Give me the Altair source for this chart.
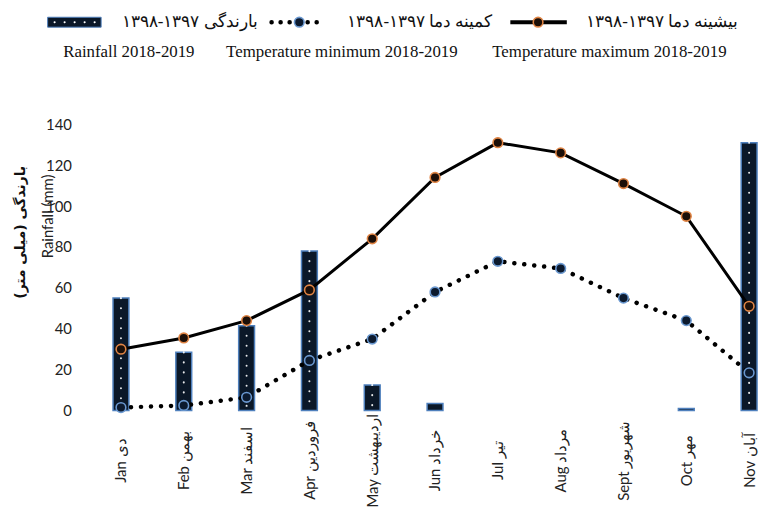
import altair as alt
import pandas as pd

# ---- data ----
months_en = ["Jan", "Feb", "Mar", "Apr", "May", "Jun", "Jul", "Aug", "Sept", "Oct", "Nov"]
months_fa = ["دی", "بهمن", "اسفند", "فروردین", "اردیبهشت", "خرداد", "تیر", "مرداد", "شهریور", "مهر", "آبان"]
rainfall = [55, 28.5, 41.5, 78, 12.5, 3.5, 0, 0, 0, 1, 131]
temp_max = [30, 35.5, 44, 59, 84, 114, 131, 126, 111, 95, 51]
temp_min = [1.5, 2.5, 6.5, 24.5, 35, 58, 73, 69.5, 55, 44, 18.5]
y_ticks = [0, 20, 40, 60, 80, 100, 120, 140]

labels = [f"{e} {f}" for e, f in zip(months_en, months_fa)]
df = pd.DataFrame({"month": labels, "rain": rainfall, "tmax": temp_max, "tmin": temp_min})
one = pd.DataFrame({"k": [0]})

LABEL_FONT = "Lato"
SERIF = "Liberation Serif"

x_enc = alt.X(
    "month:N",
    sort=labels,
    scale=alt.Scale(type="point", padding=0.284, align=0.889),
    axis=alt.Axis(
        title=None, labelAngle=270, labelAlign="center", labelBaseline="middle",
        labelPadding=50, labelFont=LABEL_FONT, labelFontSize=15, labelColor="#222",
        domain=False, ticks=False, grid=False,
    ),
)
y_scale = alt.Scale(domain=[0, 140], nice=False, zero=True)
y_axis = alt.Axis(
    title=None, values=y_ticks, domain=False, ticks=False, grid=False,
    labelPadding=18, labelFont=LABEL_FONT, labelFontSize=15, labelColor="#222",
)

base = alt.Chart(df)

# axis carrier (invisible) so both axes always render
axis_carrier = base.mark_point(opacity=0).encode(
    x=x_enc, y=alt.Y("rain:Q", scale=y_scale, axis=y_axis)
)
bars = base.transform_filter("datum.rain > 0").mark_bar(
    size=16, color="#0b1828", stroke="#4f80bd", strokeWidth=1.5
).encode(x=alt.X("month:N", sort=labels), y=alt.Y("rain:Q", scale=y_scale))
bar_dots = base.transform_filter("datum.rain > 4").mark_rule(
    color="white", strokeWidth=2, strokeDash=[0.1, 10], strokeCap="round", opacity=0.9
).encode(x=alt.X("month:N", sort=labels), y=alt.Y("rain:Q", scale=y_scale), y2=alt.datum(0))

line_max = base.mark_line(color="black", strokeWidth=3).encode(
    x=alt.X("month:N", sort=labels), y=alt.Y("tmax:Q", scale=y_scale)
)
line_min = base.mark_line(color="black", strokeWidth=4.5, strokeDash=[0.1, 10], strokeCap="round").encode(
    x=alt.X("month:N", sort=labels), y=alt.Y("tmin:Q", scale=y_scale)
)
pts_max = base.mark_circle(size=95, color="#1c0f08", stroke="#e08444", strokeWidth=1.6, opacity=1).encode(
    x=alt.X("month:N", sort=labels), y=alt.Y("tmax:Q", scale=y_scale)
)
pts_min = base.mark_circle(size=95, color="#0c1a2e", stroke="#6a98d0", strokeWidth=1.6, opacity=1).encode(
    x=alt.X("month:N", sort=labels), y=alt.Y("tmin:Q", scale=y_scale)
)

# ---- y-axis titles ----
title_fa = alt.Chart(one).mark_text(
    angle=270, font="DejaVu Sans", fontSize=14, fontWeight="bold", color="#111",
    align="center", baseline="middle"
).encode(x=alt.value(-69), y=alt.value(109), text=alt.value("بارندگی (میلی متر)"))
title_en = alt.Chart(one).mark_text(
    angle=270, font=LABEL_FONT, fontSize=15, color="#222", align="center", baseline="middle"
).encode(x=alt.value(-42), y=alt.value(93), text=alt.value("Rainfall (mm)"))

# ---- legend (drawn) ----
R1 = -103
R2 = -73
leg_rect = alt.Chart(one).mark_rect(color="#0b1828", stroke="#4f80bd", strokeWidth=1).encode(
    x=alt.value(-42), x2=alt.value(12), y=alt.value(R1 - 5), y2=alt.value(R1 + 5)
)
leg_rect_dots = alt.Chart(one).mark_rule(color="white", strokeWidth=2, strokeDash=[0.1, 10], strokeCap="round").encode(
    x=alt.value(-35), x2=alt.value(8), y=alt.value(R1)
)
leg_txt1 = alt.Chart(one).mark_text(font=SERIF, fontSize=17, color="#111", align="right", baseline="middle").encode(
    x=alt.value(170), y=alt.value(R1), text=alt.value("بارندگی ۱۳۹۷-۱۳۹۸")
)
leg_min_line = alt.Chart(one).mark_rule(color="black", strokeWidth=4.5, strokeDash=[0.1, 9], strokeCap="round").encode(
    x=alt.value(184), x2=alt.value(238), y=alt.value(R1)
)
leg_min_pt = alt.Chart(one).mark_circle(size=95, color="#0c1a2e", stroke="#6a98d0", strokeWidth=1.6, opacity=1).encode(
    x=alt.value(212), y=alt.value(R1)
)
leg_txt2 = alt.Chart(one).mark_text(font=SERIF, fontSize=17, color="#111", align="right", baseline="middle").encode(
    x=alt.value(407), y=alt.value(R1), text=alt.value("کمینه دما ۱۳۹۷-۱۳۹۸")
)
leg_max_line = alt.Chart(one).mark_rule(color="black", strokeWidth=4).encode(
    x=alt.value(425), x2=alt.value(482), y=alt.value(R1)
)
leg_max_pt = alt.Chart(one).mark_circle(size=95, color="#1c0f08", stroke="#e08444", strokeWidth=1.6, opacity=1).encode(
    x=alt.value(453), y=alt.value(R1)
)
leg_txt3 = alt.Chart(one).mark_text(font=SERIF, fontSize=17, color="#111", align="right", baseline="middle").encode(
    x=alt.value(655), y=alt.value(R1), text=alt.value("بیشینه دما ۱۳۹۷-۱۳۹۸")
)
leg_en1 = alt.Chart(one).mark_text(font=SERIF, fontSize=17, color="#111", align="center", baseline="middle").encode(
    x=alt.value(40), y=alt.value(R2), text=alt.value("Rainfall 2018-2019")
)
leg_en2 = alt.Chart(one).mark_text(font=SERIF, fontSize=17, color="#111", align="center", baseline="middle").encode(
    x=alt.value(255), y=alt.value(R2), text=alt.value("Temperature minimum 2018-2019")
)
leg_en3 = alt.Chart(one).mark_text(font=SERIF, fontSize=17, color="#111", align="center", baseline="middle").encode(
    x=alt.value(525), y=alt.value(R2), text=alt.value("Temperature maximum 2018-2019")
)

chart = alt.layer(
    axis_carrier, bars, bar_dots, line_max, line_min, pts_max, pts_min,
    title_fa, title_en,
    leg_rect, leg_rect_dots, leg_txt1, leg_min_line, leg_min_pt, leg_txt2,
    leg_max_line, leg_max_pt, leg_txt3, leg_en1, leg_en2, leg_en3,
).properties(
    width=670, height=289,
    autosize=alt.AutoSizeParams(type="none"),
    padding={"left": 82, "top": 115, "right": 8, "bottom": 100},
    background="white",
).configure_view(strokeWidth=0)

chart.save("out.html", embed_options={"renderer": "svg", "actions": False})
